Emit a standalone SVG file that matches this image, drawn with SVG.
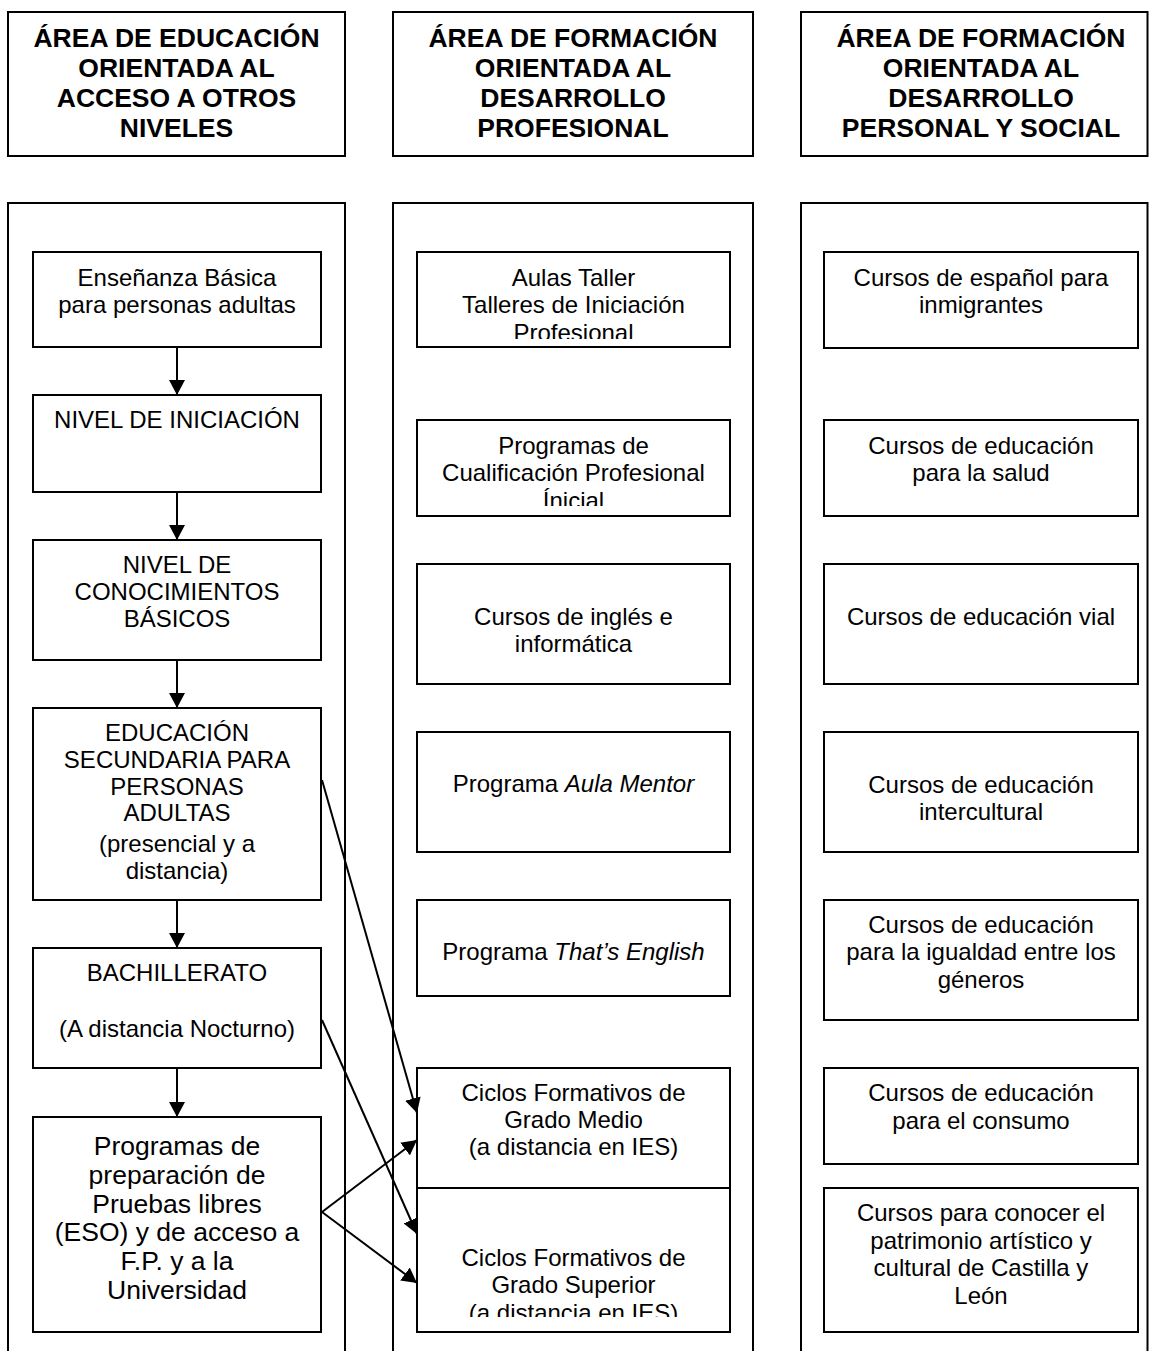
<svg xmlns="http://www.w3.org/2000/svg" width="1149" height="1351" viewBox="0 0 1149 1351">
<style>
rect{fill:#fff;stroke:#000;stroke-width:2}
text{font-family:"Liberation Sans",Arial,sans-serif;font-size:24px;fill:#000;text-anchor:middle}
.h{font-weight:bold;font-size:26.5px}
.big{font-size:26.5px}
.c line{stroke:#000;stroke-width:2;marker-end:url(#ah)}
</style>
<defs>
<marker id="ah" markerUnits="userSpaceOnUse" markerWidth="16" markerHeight="16" viewBox="0 0 16 16" refX="15" refY="8" orient="auto"><path d="M0,0 L15,8 L0,16 Z" fill="#000"/></marker>
<clipPath id="cA"><rect x="418" y="253" width="311" height="86"/></clipPath>
<clipPath id="cB"><rect x="418" y="421" width="311" height="85"/></clipPath>
<clipPath id="cC"><rect x="418" y="1189" width="311" height="128"/></clipPath>
</defs>
<g id="headers">
<g id="h1"><rect x="8" y="12" width="337" height="144"/><text class="h" x="176.5" y="47">ÁREA DE EDUCACIÓN</text><text class="h" x="176.5" y="77">ORIENTADA AL</text><text class="h" x="176.5" y="107">ACCESO A OTROS</text><text class="h" x="176.5" y="137">NIVELES</text></g>
<g id="h2"><rect x="393" y="12" width="360" height="144"/><text class="h" x="573" y="47">ÁREA DE FORMACIÓN</text><text class="h" x="573" y="77">ORIENTADA AL</text><text class="h" x="573" y="107">DESARROLLO</text><text class="h" x="573" y="137">PROFESIONAL</text></g>
<g id="h3"><rect x="801" y="12" width="346.5" height="144"/><text class="h" x="981" y="47">ÁREA DE FORMACIÓN</text><text class="h" x="981" y="77">ORIENTADA AL</text><text class="h" x="981" y="107">DESARROLLO</text><text class="h" x="981" y="137">PERSONAL Y SOCIAL</text></g>
</g>
<g id="containers">
<rect id="col1" x="8" y="203" width="337" height="1170"/>
<rect id="col2" x="393" y="203" width="360" height="1170"/>
<rect id="col3" x="801" y="203" width="346.5" height="1170"/>
</g>
<g id="left">
<g id="l1"><rect x="33" y="252" width="288" height="95"/><text x="177" y="286">Enseñanza Básica</text><text x="177" y="313">para personas adultas</text></g>
<g id="l2"><rect x="33" y="395" width="288" height="97"/><text x="177" y="428">NIVEL DE INICIACIÓN</text></g>
<g id="l3"><rect x="33" y="540" width="288" height="120"/><text x="177" y="573">NIVEL DE</text><text x="177" y="600">CONOCIMIENTOS</text><text x="177" y="627">BÁSICOS</text></g>
<g id="l4"><rect x="33" y="708" width="288" height="192"/><text x="177" y="741">EDUCACIÓN</text><text x="177" y="768">SECUNDARIA PARA</text><text x="177" y="795">PERSONAS</text><text x="177" y="821">ADULTAS</text><text x="177" y="852">(presencial y a</text><text x="177" y="879">distancia)</text></g>
<g id="l5"><rect x="33" y="948" width="288" height="120"/><text x="177" y="981">BACHILLERATO</text><text x="177" y="1037">(A distancia Nocturno)</text></g>
<g id="l6"><rect x="33" y="1117" width="288" height="215"/><text class="big" x="177" y="1155">Programas de</text><text class="big" x="177" y="1183.8">preparación de</text><text class="big" x="177" y="1212.6">Pruebas libres</text><text class="big" x="177" y="1241.4">(ESO) y de acceso a</text><text class="big" x="177" y="1270.2">F.P. y a la</text><text class="big" x="177" y="1299">Universidad</text></g>
</g>
<g id="middle">
<g id="m1"><rect x="417" y="252" width="313" height="95"/><g clip-path="url(#cA)"><text x="573.5" y="286">Aulas Taller</text><text x="573.5" y="313">Talleres de Iniciación</text><text x="573.5" y="341">Profesional</text></g></g>
<g id="m2"><rect x="417" y="420" width="313" height="96"/><g clip-path="url(#cB)"><text x="573.5" y="454">Programas de</text><text x="573.5" y="481">Cualificación Profesional</text><text x="573.5" y="509">Ínicial</text></g></g>
<g id="m3"><rect x="417" y="564" width="313" height="120"/><text x="573.5" y="625">Cursos de inglés e</text><text x="573.5" y="652">informática</text></g>
<g id="m4"><rect x="417" y="732" width="313" height="120"/><text x="573.5" y="792">Programa <tspan font-style="italic">Aula Mentor</tspan></text></g>
<g id="m5"><rect x="417" y="900" width="313" height="96"/><text x="573.5" y="960">Programa <tspan font-style="italic">That’s English</tspan></text></g>
<g id="m6"><rect x="417" y="1068" width="313" height="120"/><text x="573.5" y="1101">Ciclos Formativos de</text><text x="573.5" y="1128">Grado Medio</text><text x="573.5" y="1155">(a distancia en IES)</text></g>
<g id="m7"><rect x="417" y="1188" width="313" height="144"/><g clip-path="url(#cC)"><text x="573.5" y="1266">Ciclos Formativos de</text><text x="573.5" y="1293">Grado Superior</text><text x="573.5" y="1321">(a distancia en IES)</text></g></g>
</g>
<g id="right">
<g id="r1"><rect x="824" y="252" width="314" height="96"/><text x="981" y="286">Cursos de español para</text><text x="981" y="313">inmigrantes</text></g>
<g id="r2"><rect x="824" y="420" width="314" height="96"/><text x="981" y="454">Cursos de educación</text><text x="981" y="481">para la salud</text></g>
<g id="r3"><rect x="824" y="564" width="314" height="120"/><text x="981" y="625">Cursos de educación vial</text></g>
<g id="r4"><rect x="824" y="732" width="314" height="120"/><text x="981" y="793">Cursos de educación</text><text x="981" y="820">intercultural</text></g>
<g id="r5"><rect x="824" y="900" width="314" height="120"/><text x="981" y="933">Cursos de educación</text><text x="981" y="960">para la igualdad entre los</text><text x="981" y="988">géneros</text></g>
<g id="r6"><rect x="824" y="1068" width="314" height="96"/><text x="981" y="1101">Cursos de educación</text><text x="981" y="1129">para el consumo</text></g>
<g id="r7"><rect x="824" y="1188" width="314" height="144"/><text x="981" y="1221">Cursos para conocer el</text><text x="981" y="1249">patrimonio artístico y</text><text x="981" y="1276">cultural de Castilla y</text><text x="981" y="1304">León</text></g>
</g>
<g id="connectors" class="c">
<line x1="177" y1="347" x2="177" y2="395"/>
<line x1="177" y1="492" x2="177" y2="540"/>
<line x1="177" y1="660" x2="177" y2="708"/>
<line x1="177" y1="900" x2="177" y2="948"/>
<line x1="177" y1="1068" x2="177" y2="1117"/>
<line x1="322" y1="780" x2="417" y2="1113"/>
<line x1="322" y1="1020" x2="417" y2="1234"/>
<line x1="322" y1="1212" x2="417" y2="1140"/>
<line x1="322" y1="1212" x2="417" y2="1283"/>
</g>
</svg>
